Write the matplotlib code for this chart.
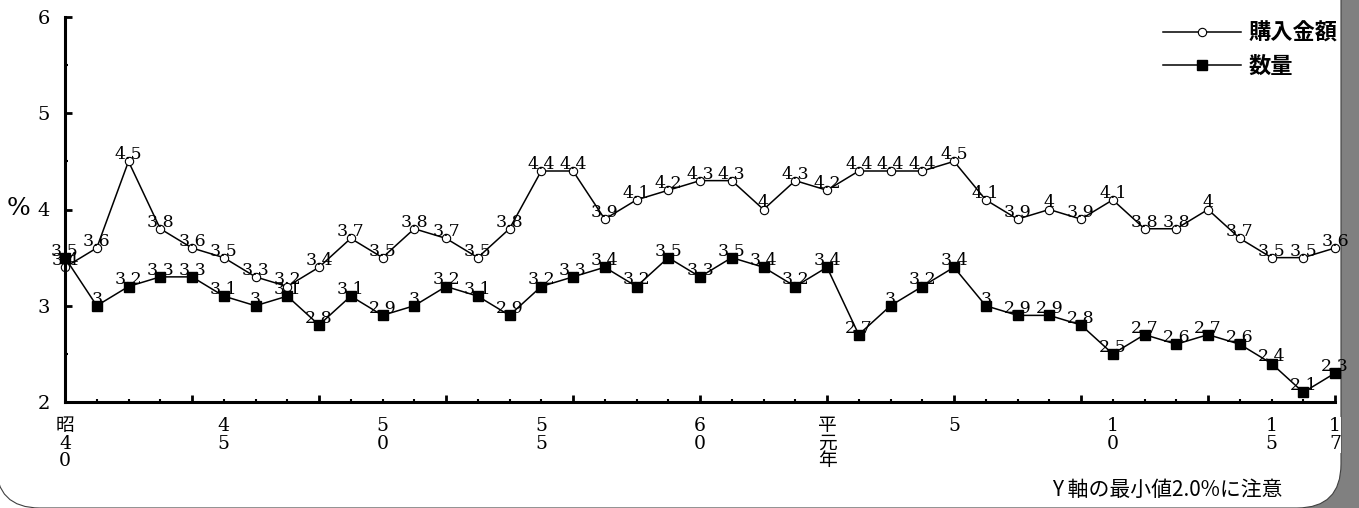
import matplotlib
matplotlib.use("Agg")
import matplotlib.pyplot as plt
from matplotlib.patches import FancyBboxPatch, Rectangle
from matplotlib.ticker import MultipleLocator

# data (昭和40年 = 1965 ... 平成17年 = 2005)
years = list(range(1965, 2006))
kingaku = [3.4, 3.6, 4.5, 3.8, 3.6, 3.5, 3.3, 3.2, 3.4, 3.7,
           3.5, 3.8, 3.7, 3.5, 3.8, 4.4, 4.4, 3.9, 4.1, 4.2,
           4.3, 4.3, 4.0, 4.3, 4.2, 4.4, 4.4, 4.4, 4.5, 4.1,
           3.9, 4.0, 3.9, 4.1, 3.8, 3.8, 4.0, 3.7, 3.5, 3.5,
           3.6]
suryo = [3.5, 3.0, 3.2, 3.3, 3.3, 3.1, 3.0, 3.1, 2.8, 3.1,
         2.9, 3.0, 3.2, 3.1, 2.9, 3.2, 3.3, 3.4, 3.2, 3.5,
         3.3, 3.5, 3.4, 3.2, 3.4, 2.7, 3.0, 3.2, 3.4, 3.0,
         2.9, 2.9, 2.8, 2.5, 2.7, 2.6, 2.7, 2.6, 2.4, 2.1,
         2.3]
tick_years = [1965, 1970, 1975, 1980, 1985, 1989, 1993, 1998, 2003, 2005]
tick_text = ['昭\n4\n0', '4\n5', '5\n0', '5\n5', '6\n0', '平\n元\n年',
             '5', '1\n0', '1\n5', '1\n7']

W, H = 1359, 508
serif = ['DejaVu Serif', 'Noto Sans CJK JP']
gothic = ['Noto Sans CJK JP', 'DejaVu Sans']

fig = plt.figure(figsize=(W / 100, H / 100), dpi=100)

# frame: gray shadow on the right, rounded white panel
px = fig.dpi_scale_trans
fig.patches.append(Rectangle((10.0, -0.1), 4.0, 6.0, transform=px,
                             facecolor='#808080', edgecolor='none', zorder=0))
fig.patches.append(FancyBboxPatch((-0.04, 0.0), 13.45, 6.0, transform=px,
                                  boxstyle='round,pad=0,rounding_size=0.44',
                                  facecolor='white', edgecolor='#404040',
                                  linewidth=0.8, zorder=1))

ax = fig.add_axes([65 / W, 106 / H, 1270 / W, 385 / H])
ax.set_facecolor('none')
ax.set_zorder(2)

ax.plot(years, kingaku, color='black', lw=1.1, marker='o', ms=6,
        mfc='white', mec='black', mew=0.8, label='購入金額', clip_on=False)
ax.plot(years, suryo, color='black', lw=1.1, marker='s', ms=6.5,
        mfc='black', mec='black', label='数量', clip_on=False)

for xs, ys in ((years, kingaku), (years, suryo)):
    for x, y in zip(xs, ys):
        ax.annotate('%g' % y, (x, y), xytext=(0, 1.5), textcoords='offset points',
                    ha='center', va='baseline', fontsize=12.5, family=serif)

ax.set_xlim(1965, 2005)
ax.set_ylim(2, 6)
for s in ('top', 'right'):
    ax.spines[s].set_visible(False)
for s in ('left', 'bottom'):
    ax.spines[s].set_linewidth(2.2)

ax.set_yticks([2, 3, 4, 5, 6])
ax.yaxis.set_minor_locator(MultipleLocator(0.5))
ax.set_xticks(list(range(1965, 2006, 4)))
ax.set_xticklabels([])
ax.xaxis.set_minor_locator(MultipleLocator(1))
ax.tick_params(which='major', direction='in', length=5, width=2)
ax.tick_params(which='minor', direction='in', length=2, width=1.5)
ax.tick_params(axis='y', pad=11, labelsize=14)
for lab in ax.get_yticklabels():
    lab.set_family(serif)

for x, t in zip(tick_years, tick_text):
    ax.annotate(t, (x, 0), xycoords=ax.get_xaxis_transform(),
                xytext=(0, -11), textcoords='offset points',
                ha='center', va='top', fontsize=13.5, family=serif,
                linespacing=0.95, annotation_clip=False,
                bbox=dict(facecolor='white', edgecolor='none', pad=0))

fig.text(19 / W, 1 - 209 / H, '%', ha='center', va='center',
         fontsize=18, family=serif)

leg = ax.legend(loc='upper left', bbox_to_anchor=(1163 / W, 1 - 22 / H),
                bbox_transform=fig.transFigure, frameon=False, borderpad=0,
                borderaxespad=0, handlelength=3.5, handletextpad=0.35,
                labelspacing=0.45, prop={'family': gothic, 'size': 16,
                                         'weight': 'bold'})

fig.text(1283 / W, 18 / H, 'Y 軸の最小値2.0%に注意', ha='right', va='center',
         fontsize=15, family=gothic)

fig.savefig('out.png', dpi=100)
